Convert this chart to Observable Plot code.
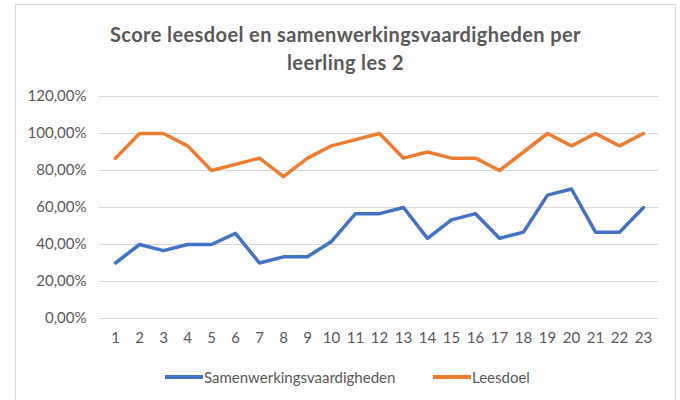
<!DOCTYPE html>
<html>
<head>
<meta charset="utf-8">
<script src="https://cdn.jsdelivr.net/npm/d3@7"></script>
<script src="https://cdn.jsdelivr.net/npm/@observablehq/plot@0.6"></script>
<style>
  body { margin: 0; background: #fff; font-family: Lato, "Open Sans", sans-serif; }
  #wrap { position: relative; width: 680px; height: 400px; overflow: hidden; }
  #frame { position: absolute; left: 15px; top: 4px; width: 661px; height: 410px; border: 1px solid #d9d9d9; box-sizing: border-box; }
  #title { position: absolute; left: 15px; width: 661px; top: 20px; text-align: center; color: #595959; font-size: 20px; font-weight: bold; line-height: 28px; letter-spacing: 0.4px; }
  #chart { position: absolute; left: 0; top: 80px; }
  #legend { position: absolute; left: 0; width: 680px; top: 368px; font-size: 15px; color: #595959; }
  .item { position: absolute; display: flex; align-items: center; white-space: nowrap; }
  .sw { display: inline-block; width: 38px; height: 4px; margin-right: 1px; }
</style>
</head>
<body>
<div id="wrap">
  <div id="frame"></div>
  <div id="title">Score leesdoel en samenwerkingsvaardigheden per<br>leerling les 2</div>
  <div id="chart"></div>
  <div id="legend"></div>
</div>
<script>
const leerlingen = ["1","2","3","4","5","6","7","8","9","10","11","12","13","14","15","16","17","18","19","20","21","22","23"];
const samenwerkingsvaardigheden = [30, 40, 36.67, 40, 40, 46, 30, 33.33, 33.33, 41.67, 56.67, 56.67, 60, 43.33, 53.33, 56.67, 43.33, 46.67, 66.67, 70, 46.67, 46.67, 60];
const leesdoel = [86.67, 100, 100, 93.33, 80, 83.33, 86.67, 76.67, 86.67, 93.33, 96.67, 100, 86.67, 90, 86.67, 86.67, 80, 90, 100, 93.33, 100, 93.33, 100];
const seriesNames = ["Samenwerkingsvaardigheden", "Leesdoel"];
const seriesColors = ["#4472C4", "#ED7D31"];
const yTicks = [0, 20, 40, 60, 80, 100, 120];

const rows = [];
leerlingen.forEach((l, i) => {
  rows.push({leerling: l, serie: seriesNames[0], waarde: samenwerkingsvaardigheden[i]});
  rows.push({leerling: l, serie: seriesNames[1], waarde: leesdoel[i]});
});

const fmt = d => d.toFixed(2).replace(".", ",") + "%";

const chart = Plot.plot({
  width: 680,
  height: 273,
  marginLeft: 99,
  marginRight: 22,
  marginTop: 16,
  marginBottom: 35,
  style: { fontFamily: "Lato, 'Open Sans', sans-serif", fontSize: "15px", color: "#595959", background: "transparent" },
  x: { type: "point", domain: leerlingen, padding: 0.5, label: null, tickSize: 0, tickPadding: 14 },
  y: { domain: [0, 120], ticks: yTicks, tickFormat: fmt, label: null, tickSize: 0, tickPadding: 13 },
  color: { domain: seriesNames, range: seriesColors },
  marks: [
    Plot.ruleY(yTicks, { stroke: "#d9d9d9", strokeWidth: 1 }),
    Plot.line(rows, { x: "leerling", y: "waarde", z: "serie", stroke: "serie", strokeWidth: 3.5, strokeLinejoin: "round", strokeLinecap: "round" })
  ]
});
document.getElementById("chart").appendChild(chart);

const legend = document.getElementById("legend");
const legendX = [165, 433];
seriesNames.forEach((name, i) => {
  const it = document.createElement("div");
  it.className = "item";
  it.style.left = legendX[i] + "px";
  const sw = document.createElement("span");
  sw.className = "sw";
  sw.style.background = seriesColors[i];
  it.appendChild(sw);
  const t = document.createElement("span");
  t.textContent = name;
  it.appendChild(t);
  legend.appendChild(it);
});
</script>
</body>
</html>
